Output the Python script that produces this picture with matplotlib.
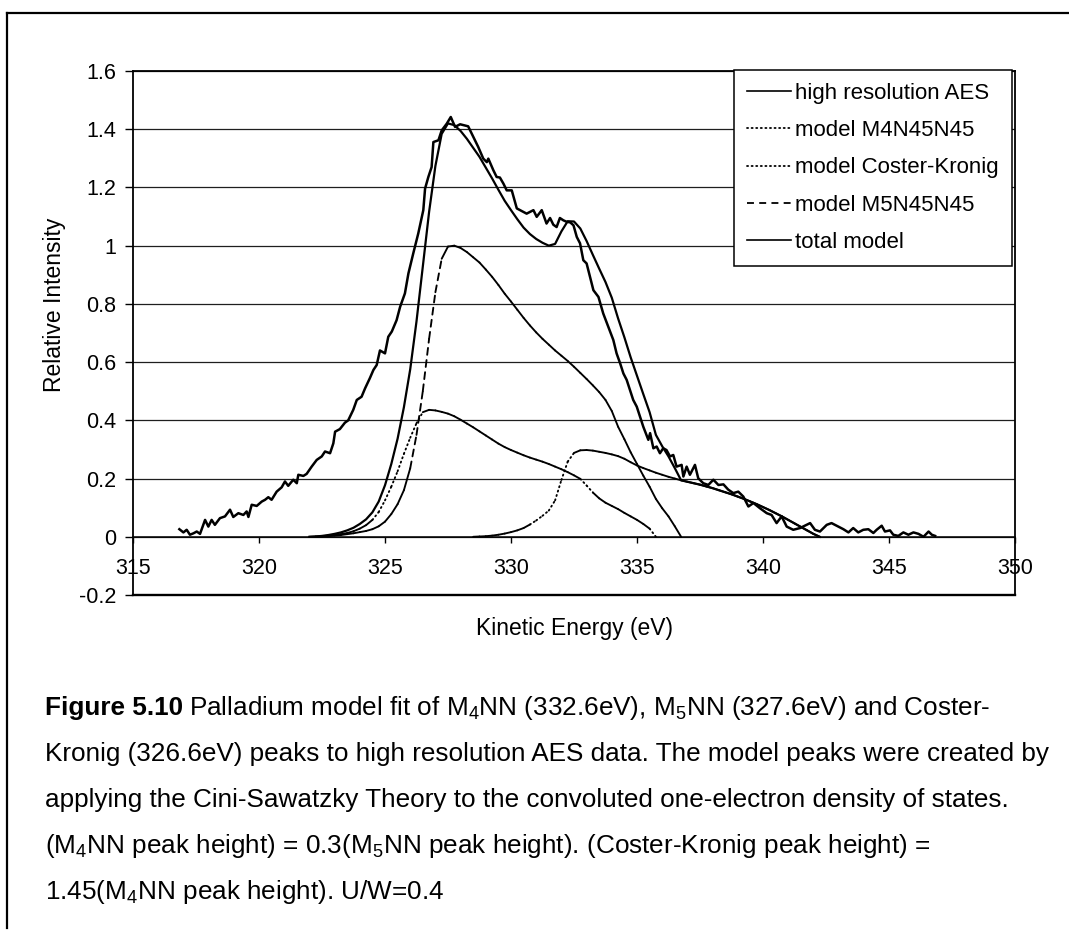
import numpy as np
import matplotlib
matplotlib.use("Agg")
import matplotlib.pyplot as plt
from matplotlib.collections import LineCollection
from matplotlib.lines import Line2D

plt.rcParams['font.family'] = ['Liberation Sans', 'DejaVu Sans']
plt.rcParams['mathtext.fontset'] = 'custom'
plt.rcParams['mathtext.rm'] = 'Liberation Sans'
plt.rcParams['lines.scale_dashes'] = False

# ---- measured high resolution AES spectrum (kinetic energy, relative intensity)
aes_ev = [316.84, 317.00, 317.13, 317.26, 317.40, 317.53, 317.66, 317.86, 317.99, 318.12,
          318.25, 318.45, 318.65, 318.85, 318.98, 319.18, 319.38, 319.51, 319.58, 319.71,
          319.91, 320.11, 320.24, 320.37, 320.50, 320.70, 320.90, 321.03, 321.16, 321.36,
          321.50, 321.56, 321.76, 321.89, 322.09, 322.29, 322.49, 322.62, 322.82, 322.95,
          323.02, 323.21, 323.41, 323.54, 323.74, 323.88, 324.07, 324.21, 324.40, 324.54,
          324.67, 324.80, 325.00, 325.13, 325.27, 325.46, 325.60, 325.79, 325.93, 326.12,
          326.32, 326.52, 326.59, 326.72, 326.85, 326.92, 327.12, 327.25, 327.45, 327.61,
          327.78, 327.98, 328.17, 328.30, 328.44, 328.70, 328.90, 329.04, 329.10, 329.30,
          329.43, 329.56, 329.70, 329.83, 330.03, 330.23, 330.36, 330.62, 330.89, 331.02,
          331.22, 331.41, 331.55, 331.68, 331.81, 331.94, 332.08, 332.21, 332.35, 332.48,
          332.61, 332.74, 332.87, 333.00, 333.20, 333.27, 333.47, 333.66, 333.86, 334.06,
          334.19, 334.33, 334.46, 334.59, 334.72, 334.85, 334.99, 335.12, 335.25, 335.45,
          335.52, 335.65, 335.78, 335.91, 336.04, 336.17, 336.31, 336.44, 336.57, 336.77,
          336.84, 336.97, 337.10, 337.30, 337.43, 337.63, 337.83, 338.03, 338.23, 338.43,
          338.62, 338.82, 339.02, 339.22, 339.42, 339.62, 339.88, 340.15, 340.34, 340.54,
          340.74, 340.94, 341.20, 341.47, 341.73, 341.87, 342.06, 342.26, 342.53, 342.72,
          342.92, 343.19, 343.39, 343.58, 343.78, 343.98, 344.18, 344.38, 344.51, 344.71,
          344.84, 345.04, 345.17, 345.37, 345.57, 345.77, 345.97, 346.17, 346.37, 346.57,
          346.70, 346.83]
aes_int = [0.026, 0.015, 0.024, 0.007, 0.012, 0.018, 0.010, 0.058, 0.035, 0.058,
           0.041, 0.064, 0.070, 0.093, 0.068, 0.081, 0.075, 0.087, 0.068, 0.110,
           0.106, 0.121, 0.127, 0.136, 0.127, 0.155, 0.170, 0.190, 0.175, 0.196,
           0.184, 0.213, 0.209, 0.216, 0.241, 0.264, 0.276, 0.293, 0.287, 0.321,
           0.361, 0.370, 0.392, 0.400, 0.436, 0.470, 0.481, 0.510, 0.545, 0.573,
           0.590, 0.640, 0.630, 0.687, 0.705, 0.744, 0.790, 0.836, 0.905, 0.973,
           1.042, 1.122, 1.196, 1.236, 1.270, 1.356, 1.362, 1.396, 1.419, 1.442,
           1.408, 1.417, 1.413, 1.410, 1.385, 1.339, 1.299, 1.287, 1.299, 1.259,
           1.236, 1.234, 1.213, 1.190, 1.190, 1.128, 1.122, 1.110, 1.122, 1.099,
           1.122, 1.076, 1.095, 1.072, 1.064, 1.095, 1.087, 1.082, 1.080, 1.070,
           1.030, 1.008, 0.950, 0.939, 0.870, 0.847, 0.824, 0.767, 0.721, 0.676,
           0.630, 0.596, 0.561, 0.539, 0.504, 0.470, 0.447, 0.413, 0.378, 0.333,
           0.356, 0.304, 0.310, 0.287, 0.304, 0.298, 0.276, 0.281, 0.241, 0.247,
           0.207, 0.241, 0.213, 0.247, 0.201, 0.184, 0.178, 0.196, 0.178, 0.180,
           0.162, 0.150, 0.155, 0.138, 0.104, 0.116, 0.098, 0.081, 0.075, 0.047,
           0.070, 0.035, 0.024, 0.030, 0.041, 0.047, 0.024, 0.018, 0.041, 0.047,
           0.038, 0.026, 0.015, 0.030, 0.015, 0.024, 0.026, 0.013, 0.024, 0.038,
           0.018, 0.022, 0.007, 0.003, 0.015, 0.007, 0.015, 0.010, 0.000, 0.018,
           0.007, 0.003]

# ---- Cini-Sawatzky model peaks on a common 0.25 eV grid (322.00 ... 342.25 eV)
model_ev = np.arange(322.0, 342.26, 0.25)

m5_model = [0.0, 0.0, 0.001, 0.002, 0.004, 0.006, 0.009, 0.012, 0.016, 0.020,
            0.026, 0.036, 0.052, 0.078, 0.112, 0.160, 0.235, 0.350, 0.500, 0.680,
            0.840, 0.955, 0.997, 1.000, 0.992, 0.978, 0.960, 0.942, 0.918, 0.893,
            0.865, 0.835, 0.808, 0.780, 0.752, 0.726, 0.702, 0.680, 0.660, 0.640,
            0.622, 0.604, 0.584, 0.563, 0.542, 0.520, 0.497, 0.470, 0.432, 0.378,
            0.335, 0.290, 0.250, 0.210, 0.172, 0.130, 0.098, 0.070, 0.036, 0.0,
            0.0, 0.0, 0.0, 0.0, 0.0, 0.0, 0.0, 0.0, 0.0, 0.0,
            0.0, 0.0, 0.0, 0.0, 0.0, 0.0, 0.0, 0.0, 0.0, 0.0,
            0.0, 0.0]

ck_model = [0.0, 0.001, 0.002, 0.004, 0.006, 0.009, 0.013, 0.019, 0.028, 0.040,
            0.058, 0.085, 0.125, 0.172, 0.225, 0.285, 0.340, 0.390, 0.428, 0.436,
            0.434, 0.429, 0.423, 0.414, 0.402, 0.389, 0.376, 0.362, 0.348, 0.334,
            0.320, 0.308, 0.298, 0.289, 0.280, 0.272, 0.265, 0.258, 0.250, 0.241,
            0.232, 0.222, 0.211, 0.199, 0.176, 0.152, 0.132, 0.117, 0.106, 0.095,
            0.082, 0.070, 0.058, 0.044, 0.028, 0.0, 0.0, 0.0, 0.0, 0.0,
            0.0, 0.0, 0.0, 0.0, 0.0, 0.0, 0.0, 0.0, 0.0, 0.0,
            0.0, 0.0, 0.0, 0.0, 0.0, 0.0, 0.0, 0.0, 0.0, 0.0,
            0.0, 0.0]

m4_model = [0.0, 0.0, 0.0, 0.0, 0.0, 0.0, 0.0, 0.0, 0.0, 0.0,
            0.0, 0.0, 0.0, 0.0, 0.0, 0.0, 0.0, 0.0, 0.0, 0.0,
            0.0, 0.0, 0.0, 0.0, 0.0, 0.0, 0.0, 0.001, 0.002, 0.004,
            0.007, 0.011, 0.016, 0.022, 0.030, 0.042, 0.056, 0.072, 0.090, 0.125,
            0.195, 0.258, 0.288, 0.297, 0.298, 0.296, 0.292, 0.288, 0.283, 0.277,
            0.268, 0.256, 0.245, 0.236, 0.228, 0.220, 0.213, 0.206, 0.200, 0.194,
            0.189, 0.184, 0.179, 0.173, 0.167, 0.160, 0.153, 0.146, 0.138, 0.130,
            0.121, 0.112, 0.102, 0.092, 0.081, 0.070, 0.058, 0.046, 0.034, 0.022,
            0.010, 0.0]

# total model is the sum of the three model peaks
total_model = np.array(m5_model) + np.array(ck_model) + np.array(m4_model)

series_labels = ["high resolution AES", "model M4N45N45", "model Coster-Kronig",
                 "model M5N45N45", "total model"]
x_ticks = [315, 320, 325, 330, 335, 340, 345, 350]
y_ticks = [-0.2, 0.0, 0.2, 0.4, 0.6, 0.8, 1.0, 1.2, 1.4, 1.6]
y_tick_labels = ["-0.2", "0", "0.2", "0.4", "0.6", "0.8", "1", "1.2", "1.4", "1.6"]

W, H = 1069, 931
fig = plt.figure(figsize=(W / 100, H / 100), dpi=100)
fig.patch.set_facecolor("white")

ax = fig.add_axes([133 / W, 1 - 595 / H, 882 / W, 524 / H])
ax.set_xlim(315, 350)
ax.set_ylim(-0.2, 1.6)

# plot-area frame; the category axis crosses at zero
ax.spines['bottom'].set_position(('data', 0))
for s in ['left', 'right', 'top']:
    ax.spines[s].set_color('k')
    ax.spines[s].set_linewidth(1.3)
ax.spines['bottom'].set_linewidth(1.1)
ax.axhline(-0.2, color='k', lw=1.7, clip_on=False, zorder=3)

ax.set_xticks(x_ticks)
ax.set_xticklabels([str(v) for v in x_ticks])
ax.set_yticks(y_ticks)
ax.set_yticklabels(y_tick_labels)
ax.tick_params(axis='x', direction='out', length=4, width=1, pad=11, labelsize=15.5)
ax.tick_params(axis='y', direction='out', length=6, width=1, pad=6, labelsize=15.5)
ax.grid(axis='y', color='#1e1e1e', lw=0.9, zorder=1)
ax.set_axisbelow(True)


def draw_model(x, y, pattern, lw, short_px):
    """Draw a curve segment by segment; each segment restarts its dash
    pattern, and segments shorter than short_px are drawn solid."""
    x = np.asarray(x)
    y = np.asarray(y)
    nz = np.nonzero(y)[0]
    i0 = max(nz[0] - 1, 0)
    i1 = min(nz[-1] + 2, len(y))
    pts = np.column_stack([x[i0:i1], y[i0:i1]])
    segs = np.stack([pts[:-1], pts[1:]], axis=1)
    disp = ax.transData.transform(pts)
    seglen = np.hypot(*np.diff(disp, axis=0).T)
    styles = ['solid' if L < short_px else (0, pattern) for L in seglen]
    lc = LineCollection(segs, colors='k', linewidths=lw, linestyles=styles,
                        capstyle='round', joinstyle='round', zorder=4)
    ax.add_collection(lc)


dot_pat = (0.8, 2.5)
dash_pat = (5.0, 3.8)

ax.plot(aes_ev, aes_int, color='k', lw=1.8, zorder=6, solid_joinstyle='round')
draw_model(model_ev, m4_model, dot_pat, 1.35, 7.5)
draw_model(model_ev, ck_model, dot_pat, 1.35, 9.0)
draw_model(model_ev, m5_model, dash_pat, 1.35, 25.0)
nzt = np.nonzero(total_model)[0]
ax.plot(model_ev[max(nzt[0] - 1, 0):nzt[-1] + 2], total_model[max(nzt[0] - 1, 0):nzt[-1] + 2],
        color='k', lw=1.6, zorder=5, solid_joinstyle='round')

handles = [
    Line2D([], [], color='k', lw=1.2),
    Line2D([], [], color='k', lw=1.3, linestyle=(0, dot_pat), dash_capstyle='round'),
    Line2D([], [], color='k', lw=1.3, linestyle=(0, dot_pat), dash_capstyle='round'),
    Line2D([], [], color='k', lw=1.3, linestyle=(0, dash_pat)),
    Line2D([], [], color='k', lw=1.2),
]
leg = ax.legend(handles, series_labels, loc='upper right',
                bbox_to_anchor=(1012 / W, 1 - 70 / H), bbox_transform=fig.transFigure,
                borderaxespad=0, fontsize=16, frameon=True, fancybox=False,
                edgecolor='k', framealpha=1, handlelength=2.0, handletextpad=0.2,
                labelspacing=0.73, borderpad=0.58)
leg.get_frame().set_linewidth(1.1)
leg.set_zorder(10)

# axis titles
fig.text(55 / W, 1 - 305 / H, "Relative Intensity", rotation=90,
         ha='center', va='center', fontsize=16.5)
fig.text(575 / W, 1 - 629 / H, "Kinetic Energy (eV)",
         ha='center', va='center', fontsize=16.5)

# page frame around the figure
fig.add_artist(Line2D([7 / W, 1.0], [1 - 13 / H, 1 - 13 / H],
                      transform=fig.transFigure, color='k', lw=1.6))
fig.add_artist(Line2D([7 / W, 7 / W], [1 - 13 / H, 1 - 928 / H],
                      transform=fig.transFigure, color='k', lw=1.6))

# caption
cap_x = 45
cap_size = 18.8
sub4 = r"M$_\mathregular{4}$NN"
sub5 = r"M$_\mathregular{5}$NN"
caption_lines = [
    "Palladium model fit of " + sub4 + " (332.6eV), " + sub5 + " (327.6eV) and Coster-",
    "Kronig (326.6eV) peaks to high resolution AES data. The model peaks were created by",
    "applying the Cini-Sawatzky Theory to the convoluted one-electron density of states.",
    "(" + sub4 + " peak height) = 0.3(" + sub5 + " peak height). (Coster-Kronig peak height) =",
    "1.45(" + sub4 + " peak height). U/W=0.4",
]
baselines = [715, 761, 807, 853, 899]

renderer = fig.canvas.get_renderer()
head = fig.text(cap_x / W, 1 - baselines[0] / H, "Figure 5.10", fontsize=cap_size,
                fontweight='bold', va='baseline', ha='left')
head_w = head.get_window_extent(renderer).width
fig.text((cap_x + head_w + 6) / W, 1 - baselines[0] / H, caption_lines[0],
         fontsize=cap_size, va='baseline', ha='left')
for line, b in zip(caption_lines[1:], baselines[1:]):
    fig.text(cap_x / W, 1 - b / H, line, fontsize=cap_size, va='baseline', ha='left')

fig.savefig("out.png", dpi=100, facecolor='white')
